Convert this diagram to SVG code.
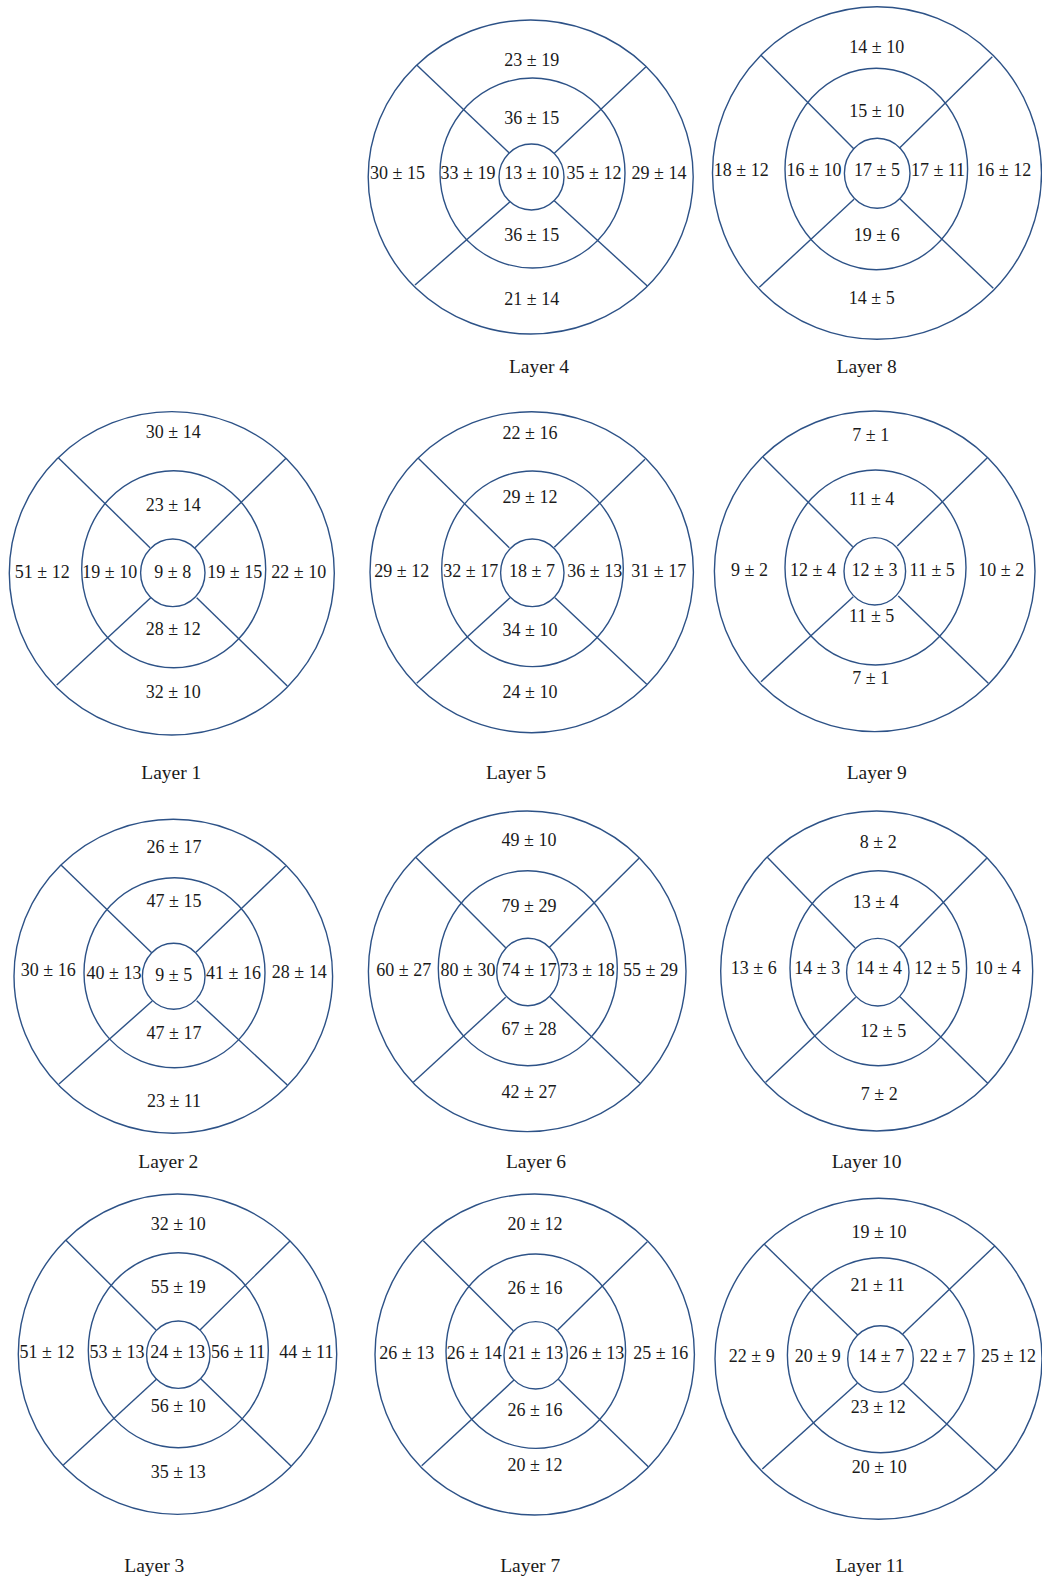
<svg xmlns="http://www.w3.org/2000/svg" width="1042" height="1580" viewBox="0 0 1042 1580">
<style>
.c{fill:none;stroke:#2d5287;stroke-width:1.4}
.l{stroke:#2d5287;stroke-width:1.4;fill:none}
.v{font-family:"Liberation Serif","Times New Roman",serif;font-size:18px;fill:#1a1a1a;text-anchor:middle}
.t{font-family:"Liberation Serif","Times New Roman",serif;font-size:19.5px;fill:#1a1a1a;text-anchor:middle}
</style>
<rect width="1042" height="1580" fill="#fff"/>

<g id="layer4">
<ellipse class="c" cx="530.7" cy="177" rx="162.5" ry="157"/>
<ellipse class="c" cx="532.5" cy="173" rx="92.5" ry="95"/>
<ellipse class="c" cx="531.5" cy="177" rx="32.5" ry="33"/>
<g class="l"><line x1="416.7" y1="65" x2="509" y2="152.7"/><line x1="646" y1="66.7" x2="554.3" y2="153.3"/><line x1="415" y1="285" x2="510" y2="201.7"/><line x1="647.3" y1="286" x2="554.3" y2="200.7"/></g>
<text class="v" x="531.7" y="66">23 ± 19</text>
<text class="v" x="531.7" y="124.3">36 ± 15</text>
<text class="v" x="397.5" y="179">30 ± 15</text>
<text class="v" x="468" y="179">33 ± 19</text>
<text class="v" x="531.7" y="179">13 ± 10</text>
<text class="v" x="594" y="179">35 ± 12</text>
<text class="v" x="659" y="179">29 ± 14</text>
<text class="v" x="531.7" y="240.7">36 ± 15</text>
<text class="v" x="531.7" y="305">21 ± 14</text>
<text class="t" x="539" y="373">Layer 4</text>
</g>

<g id="layer8">
<ellipse class="c" cx="877" cy="173" rx="164.5" ry="166.3"/>
<ellipse class="c" cx="876.3" cy="169" rx="91.3" ry="100.8"/>
<ellipse class="c" cx="877.2" cy="173.3" rx="32.8" ry="35"/>
<g class="l"><line x1="760.7" y1="55" x2="854" y2="149"/><line x1="992.3" y1="56.7" x2="899.3" y2="148.3"/><line x1="759.3" y1="287.3" x2="854" y2="199.3"/><line x1="993.3" y1="288.3" x2="900" y2="199"/></g>
<text class="v" x="876.7" y="53.3">14 ± 10</text>
<text class="v" x="876.7" y="117.3">15 ± 10</text>
<text class="v" x="741.2" y="175.7">18 ± 12</text>
<text class="v" x="814" y="175.7">16 ± 10</text>
<text class="v" x="877" y="175.7">17 ± 5</text>
<text class="v" x="938" y="175.7">17 ± 11</text>
<text class="v" x="1003.8" y="175.7">16 ± 12</text>
<text class="v" x="876.7" y="241">19 ± 6</text>
<text class="v" x="871.7" y="304.3">14 ± 5</text>
<text class="t" x="866.6" y="373">Layer 8</text>
</g>

<g id="layer1">
<ellipse class="c" cx="171.8" cy="573.3" rx="162.5" ry="161.7"/>
<ellipse class="c" cx="173.7" cy="569.2" rx="92" ry="98.5"/>
<ellipse class="c" cx="172.8" cy="572.8" rx="32.2" ry="33.8"/>
<g class="l"><line x1="58.3" y1="457.7" x2="150" y2="547.7"/><line x1="286" y1="458.3" x2="195" y2="547.7"/><line x1="56.7" y1="685" x2="150.7" y2="597.7"/><line x1="287.3" y1="686" x2="196.7" y2="597.7"/></g>
<text class="v" x="173.3" y="438.3">30 ± 14</text>
<text class="v" x="173.3" y="511">23 ± 14</text>
<text class="v" x="42.2" y="577.7">51 ± 12</text>
<text class="v" x="109.7" y="577.7">19 ± 10</text>
<text class="v" x="172.8" y="577.7">9 ± 8</text>
<text class="v" x="234.7" y="577.7">19 ± 15</text>
<text class="v" x="298.8" y="577.7">22 ± 10</text>
<text class="v" x="173.3" y="635">28 ± 12</text>
<text class="v" x="173.3" y="698.3">32 ± 10</text>
<text class="t" x="171.3" y="779">Layer 1</text>
</g>

<g id="layer5">
<ellipse class="c" cx="531.7" cy="572.2" rx="161.7" ry="160.5"/>
<ellipse class="c" cx="532.5" cy="568.8" rx="90.8" ry="97.8"/>
<ellipse class="c" cx="532.3" cy="572.8" rx="31.7" ry="33.8"/>
<g class="l"><line x1="418.3" y1="458.3" x2="509.3" y2="547.7"/><line x1="645" y1="459.3" x2="554.3" y2="547.3"/><line x1="416.7" y1="683.3" x2="510" y2="597.7"/><line x1="646.7" y1="684.3" x2="555" y2="597.7"/></g>
<text class="v" x="530" y="439.3">22 ± 16</text>
<text class="v" x="530" y="503.3">29 ± 12</text>
<text class="v" x="401.7" y="576.7">29 ± 12</text>
<text class="v" x="470.8" y="576.7">32 ± 17</text>
<text class="v" x="532" y="576.7">18 ± 7</text>
<text class="v" x="594.8" y="576.7">36 ± 13</text>
<text class="v" x="658.8" y="576.7">31 ± 17</text>
<text class="v" x="530" y="635.7">34 ± 10</text>
<text class="v" x="530" y="698.3">24 ± 10</text>
<text class="t" x="516" y="779">Layer 5</text>
</g>

<g id="layer9">
<ellipse class="c" cx="874.7" cy="571.3" rx="160.3" ry="160.3"/>
<ellipse class="c" cx="875.5" cy="567.5" rx="90.5" ry="97.5"/>
<ellipse class="c" cx="874.8" cy="571.3" rx="30.8" ry="33.7"/>
<g class="l"><line x1="762.7" y1="456.7" x2="852.7" y2="546.7"/><line x1="987.3" y1="457.7" x2="897.3" y2="546"/><line x1="761" y1="681.7" x2="853.3" y2="596.7"/><line x1="988.3" y1="683.3" x2="898.3" y2="596"/></g>
<text class="v" x="870.7" y="441">7 ± 1</text>
<text class="v" x="871.7" y="505">11 ± 4</text>
<text class="v" x="749.5" y="576">9 ± 2</text>
<text class="v" x="813" y="576">12 ± 4</text>
<text class="v" x="874.5" y="576">12 ± 3</text>
<text class="v" x="932.2" y="576">11 ± 5</text>
<text class="v" x="1001.3" y="576">10 ± 2</text>
<text class="v" x="871.7" y="621.7">11 ± 5</text>
<text class="v" x="870.7" y="684.3">7 ± 1</text>
<text class="t" x="876.7" y="779">Layer 9</text>
</g>

<g id="layer2">
<ellipse class="c" cx="173.3" cy="976.3" rx="159.3" ry="157"/>
<ellipse class="c" cx="174.5" cy="972.7" rx="90.5" ry="95"/>
<ellipse class="c" cx="173.7" cy="976.3" rx="31.3" ry="33"/>
<g class="l"><line x1="61" y1="865" x2="151.7" y2="952.7"/><line x1="285.7" y1="866" x2="196" y2="952.3"/><line x1="59" y1="1084" x2="152.3" y2="1001"/><line x1="287.3" y1="1085" x2="196.7" y2="1000.7"/></g>
<text class="v" x="174" y="852.7">26 ± 17</text>
<text class="v" x="174" y="906.7">47 ± 15</text>
<text class="v" x="48.3" y="975.7">30 ± 16</text>
<text class="v" x="114" y="979">40 ± 13</text>
<text class="v" x="173.8" y="980.7">9 ± 5</text>
<text class="v" x="233.5" y="979">41 ± 16</text>
<text class="v" x="299.2" y="977.7">28 ± 14</text>
<text class="v" x="174" y="1039.3">47 ± 17</text>
<text class="v" x="174" y="1106.7">23 ± 11</text>
<text class="t" x="168.3" y="1168">Layer 2</text>
</g>

<g id="layer6">
<ellipse class="c" cx="527.2" cy="971.3" rx="158.8" ry="160.3"/>
<ellipse class="c" cx="527.8" cy="968.2" rx="89.5" ry="97.5"/>
<ellipse class="c" cx="528" cy="972" rx="31.3" ry="33.7"/>
<g class="l"><line x1="415.7" y1="857.3" x2="505.7" y2="947.7"/><line x1="639" y1="858.3" x2="549" y2="947.7"/><line x1="413.3" y1="1082.3" x2="505.7" y2="997.3"/><line x1="640" y1="1083.3" x2="550" y2="996.7"/></g>
<text class="v" x="529" y="846">49 ± 10</text>
<text class="v" x="529" y="912.3">79 ± 29</text>
<text class="v" x="403.8" y="975.7">60 ± 27</text>
<text class="v" x="468" y="975.7">80 ± 30</text>
<text class="v" x="529.2" y="975.7">74 ± 17</text>
<text class="v" x="587.2" y="975.7">73 ± 18</text>
<text class="v" x="650.5" y="975.7">55 ± 29</text>
<text class="v" x="529" y="1035">67 ± 28</text>
<text class="v" x="529" y="1098.3">42 ± 27</text>
<text class="t" x="536" y="1168">Layer 6</text>
</g>

<g id="layer10">
<ellipse class="c" cx="876.7" cy="971" rx="156" ry="160"/>
<ellipse class="c" cx="878.3" cy="968.2" rx="88.3" ry="97.5"/>
<ellipse class="c" cx="877.8" cy="972.2" rx="31.2" ry="33.8"/>
<g class="l"><line x1="767.3" y1="857.3" x2="855" y2="947.7"/><line x1="986.7" y1="858.3" x2="899.3" y2="947.3"/><line x1="765.7" y1="1082.3" x2="855.7" y2="997.3"/><line x1="987.7" y1="1083.3" x2="900" y2="996.7"/></g>
<text class="v" x="878.3" y="847.7">8 ± 2</text>
<text class="v" x="875.7" y="908.3">13 ± 4</text>
<text class="v" x="753.7" y="974.3">13 ± 6</text>
<text class="v" x="817.2" y="974.3">14 ± 3</text>
<text class="v" x="879" y="974.3">14 ± 4</text>
<text class="v" x="937.2" y="974.3">12 ± 5</text>
<text class="v" x="997.8" y="974.3">10 ± 4</text>
<text class="v" x="883.3" y="1036.7">12 ± 5</text>
<text class="v" x="879.3" y="1100">7 ± 2</text>
<text class="t" x="866.6" y="1168">Layer 10</text>
</g>

<g id="layer3">
<ellipse class="c" cx="177.5" cy="1354.2" rx="159.2" ry="160.2"/>
<ellipse class="c" cx="178.3" cy="1350.2" rx="90" ry="97.5"/>
<ellipse class="c" cx="178.3" cy="1354.7" rx="31.7" ry="33.7"/>
<g class="l"><line x1="65.7" y1="1240" x2="156" y2="1330"/><line x1="290" y1="1241" x2="200" y2="1330"/><line x1="63.3" y1="1465" x2="156.7" y2="1379"/><line x1="291" y1="1466" x2="201" y2="1379"/></g>
<text class="v" x="178.3" y="1230">32 ± 10</text>
<text class="v" x="178.3" y="1292.7">55 ± 19</text>
<text class="v" x="47" y="1358.3">51 ± 12</text>
<text class="v" x="117" y="1358.3">53 ± 13</text>
<text class="v" x="177.8" y="1358.3">24 ± 13</text>
<text class="v" x="238.2" y="1358.3">56 ± 11</text>
<text class="v" x="306.3" y="1358.3">44 ± 11</text>
<text class="v" x="178.3" y="1411.7">56 ± 10</text>
<text class="v" x="178.3" y="1477.7">35 ± 13</text>
<text class="t" x="154.3" y="1571.7">Layer 3</text>
</g>

<g id="layer7">
<ellipse class="c" cx="534.7" cy="1354.5" rx="159.7" ry="160.5"/>
<ellipse class="c" cx="535.8" cy="1351.2" rx="89.8" ry="97.2"/>
<ellipse class="c" cx="535.7" cy="1355.3" rx="31.7" ry="33.7"/>
<g class="l"><line x1="423.3" y1="1240.7" x2="513.3" y2="1330.7"/><line x1="647.3" y1="1241.7" x2="557.7" y2="1330"/><line x1="421.7" y1="1465.7" x2="514" y2="1380"/><line x1="648.3" y1="1466.7" x2="558.3" y2="1379.3"/></g>
<text class="v" x="535" y="1230">20 ± 12</text>
<text class="v" x="535" y="1294.3">26 ± 16</text>
<text class="v" x="406.7" y="1359">26 ± 13</text>
<text class="v" x="474.2" y="1359">26 ± 14</text>
<text class="v" x="535.8" y="1359">21 ± 13</text>
<text class="v" x="596.8" y="1359">26 ± 13</text>
<text class="v" x="660.8" y="1359">25 ± 16</text>
<text class="v" x="535" y="1416">26 ± 16</text>
<text class="v" x="535" y="1471">20 ± 12</text>
<text class="t" x="530.2" y="1571.7">Layer 7</text>
</g>

<g id="layer11">
<ellipse class="c" cx="878.5" cy="1358.8" rx="163.5" ry="160.5"/>
<ellipse class="c" cx="880.7" cy="1355.2" rx="93.3" ry="97.5"/>
<ellipse class="c" cx="880.5" cy="1359" rx="32.8" ry="33.3"/>
<g class="l"><line x1="764.3" y1="1244.3" x2="857.7" y2="1335"/><line x1="995" y1="1245.7" x2="902.7" y2="1334"/><line x1="762.3" y1="1469" x2="857.3" y2="1383.3"/><line x1="996.7" y1="1470.7" x2="903.3" y2="1383.3"/></g>
<text class="v" x="879" y="1238.3">19 ± 10</text>
<text class="v" x="877.7" y="1291">21 ± 11</text>
<text class="v" x="751.7" y="1362.3">22 ± 9</text>
<text class="v" x="817.7" y="1362.3">20 ± 9</text>
<text class="v" x="881.2" y="1362.3">14 ± 7</text>
<text class="v" x="942.7" y="1362.3">22 ± 7</text>
<text class="v" x="1008.5" y="1362.3">25 ± 12</text>
<text class="v" x="878.3" y="1412.7">23 ± 12</text>
<text class="v" x="879.3" y="1473.3">20 ± 10</text>
<text class="t" x="870" y="1571.7">Layer 11</text>
</g>
</svg>
